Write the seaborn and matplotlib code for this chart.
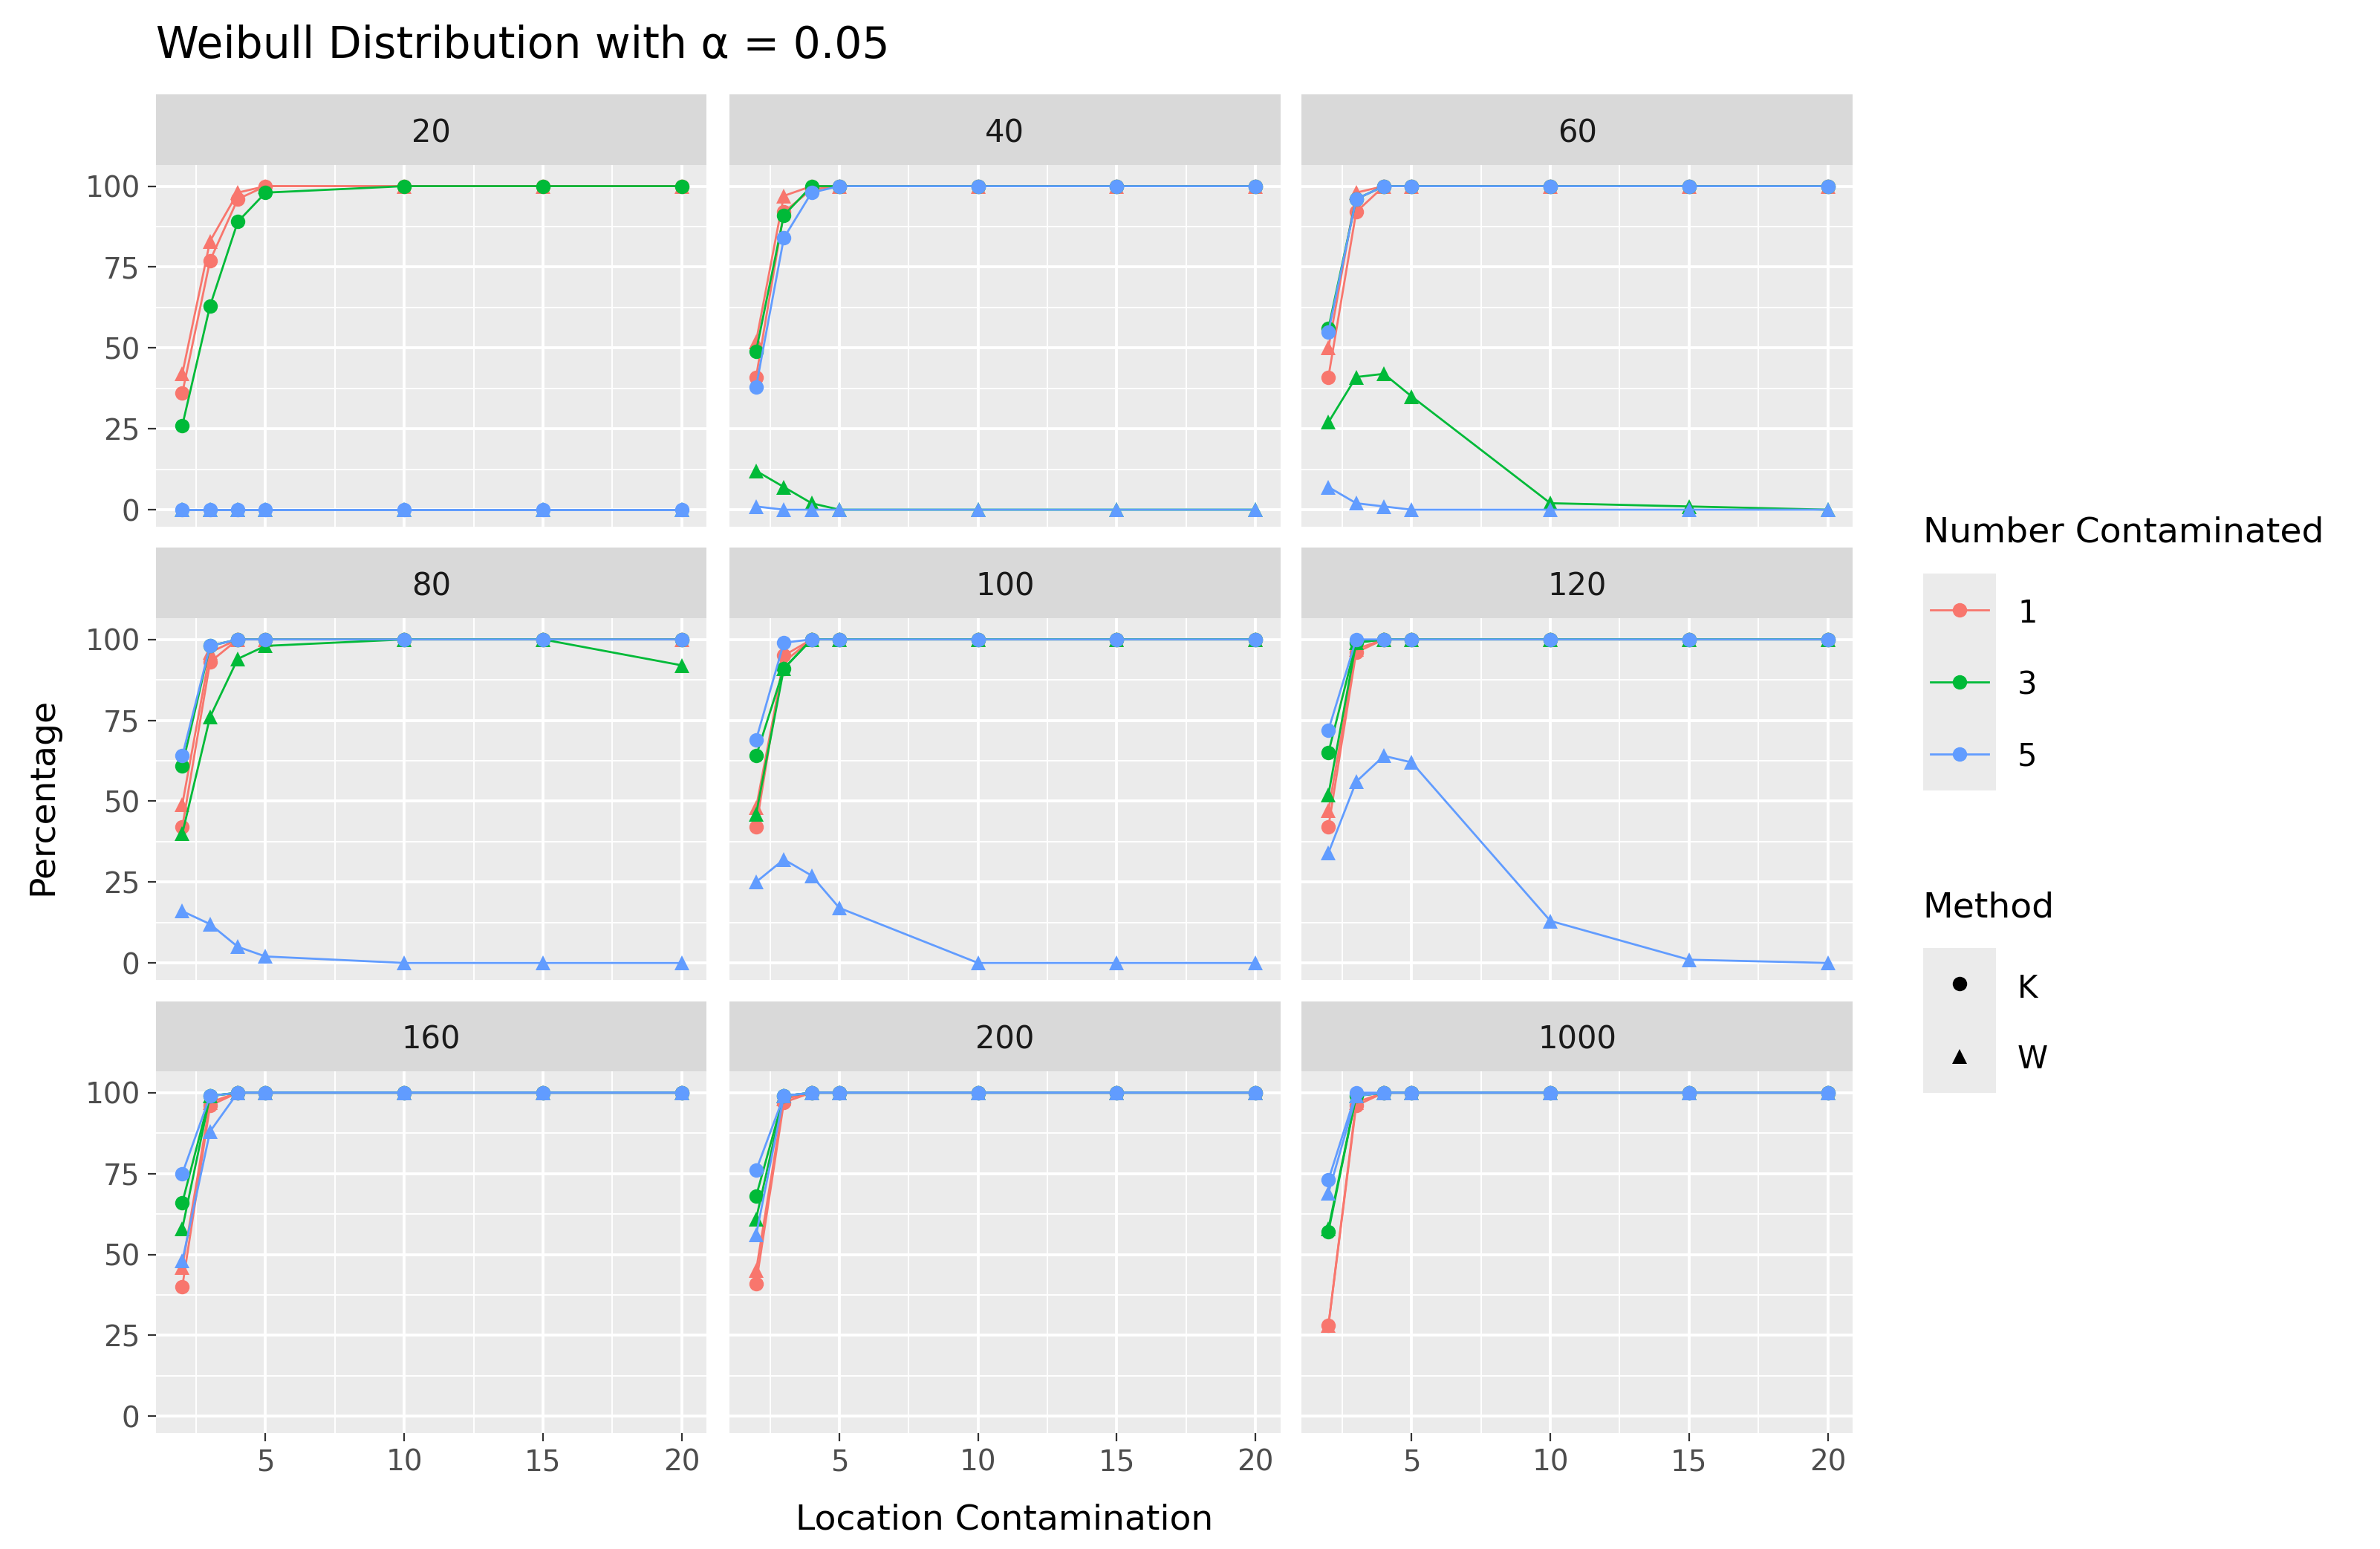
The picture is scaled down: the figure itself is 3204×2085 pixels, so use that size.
import numpy as np
import pandas as pd
import seaborn as sns
import matplotlib.pyplot as plt
from matplotlib.lines import Line2D

locations = [2, 3, 4, 5, 10, 15, 20]
panels = ["20", "40", "60", "80", "100", "120", "160", "200", "1000"]
counts = ["1", "3", "5"]
methods = ["K", "W"]

# values[panel][(count, method)]
K1_20 = [36, 77, 96, 100, 100, 100, 100]; W1_20 = [42, 83, 98, 100, 100, 100, 100]
K3_20 = [26, 63, 89, 98, 100, 100, 100]; W3_20 = [0, 0, 0, 0, 0, 0, 0]
K5_20 = [0, 0, 0, 0, 0, 0, 0]; W5_20 = [0, 0, 0, 0, 0, 0, 0]

K1_40 = [41, 92, 99, 100, 100, 100, 100]; W1_40 = [52, 97, 100, 100, 100, 100, 100]
K3_40 = [49, 91, 100, 100, 100, 100, 100]; W3_40 = [12, 7, 2, 0, 0, 0, 0]
K5_40 = [38, 84, 98, 100, 100, 100, 100]; W5_40 = [1, 0, 0, 0, 0, 0, 0]

K1_60 = [41, 92, 100, 100, 100, 100, 100]; W1_60 = [50, 98, 100, 100, 100, 100, 100]
K3_60 = [56, 96, 100, 100, 100, 100, 100]; W3_60 = [27, 41, 42, 35, 2, 1, 0]
K5_60 = [55, 96, 100, 100, 100, 100, 100]; W5_60 = [7, 2, 1, 0, 0, 0, 0]

K1_80 = [42, 93, 100, 100, 100, 100, 100]; W1_80 = [49, 96, 100, 100, 100, 100, 100]
K3_80 = [61, 98, 100, 100, 100, 100, 100]; W3_80 = [40, 76, 94, 98, 100, 100, 92]
K5_80 = [64, 98, 100, 100, 100, 100, 100]; W5_80 = [16, 12, 5, 2, 0, 0, 0]

K1_100 = [42, 95, 100, 100, 100, 100, 100]; W1_100 = [48, 93, 100, 100, 100, 100, 100]
K3_100 = [64, 91, 100, 100, 100, 100, 100]; W3_100 = [46, 91, 100, 100, 100, 100, 100]
K5_100 = [69, 99, 100, 100, 100, 100, 100]; W5_100 = [25, 32, 27, 17, 0, 0, 0]

K1_120 = [42, 96, 100, 100, 100, 100, 100]; W1_120 = [47, 97, 100, 100, 100, 100, 100]
K3_120 = [65, 99, 100, 100, 100, 100, 100]; W3_120 = [52, 99, 100, 100, 100, 100, 100]
K5_120 = [72, 100, 100, 100, 100, 100, 100]; W5_120 = [34, 56, 64, 62, 13, 1, 0]

K1_160 = [40, 96, 100, 100, 100, 100, 100]; W1_160 = [46, 97, 100, 100, 100, 100, 100]
K3_160 = [66, 99, 100, 100, 100, 100, 100]; W3_160 = [58, 99, 100, 100, 100, 100, 100]
K5_160 = [75, 99, 100, 100, 100, 100, 100]; W5_160 = [48, 88, 100, 100, 100, 100, 100]

K1_200 = [41, 97, 100, 100, 100, 100, 100]; W1_200 = [45, 98, 100, 100, 100, 100, 100]
K3_200 = [68, 99, 100, 100, 100, 100, 100]; W3_200 = [61, 99, 100, 100, 100, 100, 100]
K5_200 = [76, 99, 100, 100, 100, 100, 100]; W5_200 = [56, 99, 100, 100, 100, 100, 100]

K1_1000 = [28, 96, 100, 100, 100, 100, 100]; W1_1000 = [28, 97, 100, 100, 100, 100, 100]
K3_1000 = [57, 99, 100, 100, 100, 100, 100]; W3_1000 = [58, 99, 100, 100, 100, 100, 100]
K5_1000 = [73, 100, 100, 100, 100, 100, 100]; W5_1000 = [69, 99, 100, 100, 100, 100, 100]

g = globals()
rows = []
for p in panels:
    for c in counts:
        for m in methods:
            for x, v in zip(locations, g[f"{m}{c}_{p}"]):
                rows.append(dict(panel=p, count=c, method=m, loc=x, pct=v))
df = pd.DataFrame(rows)

palette = {"1": "#F8766D", "3": "#00BA38", "5": "#619CFF"}
markers = {"K": "o", "W": "^"}

W, H = 1560.0, 1015.0
fig = plt.figure(figsize=(16.025, 10.425), dpi=200)
fig.patch.set_facecolor("white")
lefts = [102, 478, 853]
pw = 361
plot_tops = [108, 405, 702]
ph = 237
sh = 46

for i, p in enumerate(panels):
    r, c = divmod(i, 3)
    ax = fig.add_axes([lefts[c] / W, 1 - (plot_tops[r] + ph) / H, pw / W, ph / H])
    ax.set_facecolor("#EBEBEB")
    sub = df[df.panel == p]
    sns.lineplot(data=sub, x="loc", y="pct", hue="count", style="method",
                 palette=palette, markers=markers, dashes=False, ax=ax,
                 linewidth=1.0, markersize=7, markeredgewidth=0, legend=False,
                 hue_order=counts, style_order=methods)
    ax.set_xlim(1.04, 20.9)
    ax.set_ylim(-5.2, 106.6)
    ax.set_xticks([5, 10, 15, 20])
    ax.set_xticks([2.5, 7.5, 12.5, 17.5], minor=True)
    ax.set_yticks([0, 25, 50, 75, 100])
    ax.set_yticks([12.5, 37.5, 62.5, 87.5], minor=True)
    ax.grid(True, which="major", color="white", linewidth=1.4)
    ax.grid(True, which="minor", color="white", linewidth=0.7)
    ax.set_axisbelow(True)
    for s in ax.spines.values():
        s.set_visible(False)
    ax.tick_params(which="minor", length=0)
    ax.tick_params(which="major", length=4, color="#333333", labelsize=14, labelcolor="#4D4D4D")
    ax.set_xlabel(""); ax.set_ylabel("")
    if c != 0:
        ax.set_yticklabels([])
        ax.tick_params(axis="y", length=0)
    if r != 2:
        ax.set_xticklabels([])
        ax.tick_params(axis="x", length=0)
    # strip
    sax = fig.add_axes([lefts[c] / W, 1 - plot_tops[r] / H, pw / W, sh / H])
    sax.set_facecolor("#D9D9D9")
    sax.set_xticks([]); sax.set_yticks([])
    for s in sax.spines.values():
        s.set_visible(False)
    sax.text(0.5, 0.45, p, ha="center", va="center", fontsize=15, color="#1A1A1A",
             transform=sax.transAxes)

fig.text(102 / W, 1 - 30 / H, "Weibull Distribution with α = 0.05", fontsize=21,
         ha="left", va="center", color="black")
fig.text(658 / W, 1 - 996 / H, "Location Contamination", fontsize=17, ha="center", va="center")
fig.text(28 / W, 1 - 522 / H, "Percentage", fontsize=17, ha="center", va="center", rotation=90)

# legends
fig.text(1260 / W, 1 - 349 / H, "Number Contaminated", fontsize=17, ha="left", va="center")
lax = fig.add_axes([1260 / W, 1 - 518 / H, 48 / W, 142 / H])
lax.set_facecolor("#EBEBEB"); lax.set_xticks([]); lax.set_yticks([])
for s in lax.spines.values():
    s.set_visible(False)
lax.set_xlim(0, 1); lax.set_ylim(0, 3)
for k, cnt in enumerate(counts):
    yy = 2.5 - k
    lax.plot([0.1, 0.9], [yy, yy], color=palette[cnt], lw=1.0)
    lax.plot([0.5], [yy], marker="o", color=palette[cnt], ms=7, mew=0)
    fig.text(1322 / W, 1 - (402 + 47 * k) / H, cnt, fontsize=15, ha="left", va="center")

fig.text(1260 / W, 1 - 595 / H, "Method", fontsize=17, ha="left", va="center")
mx = fig.add_axes([1260 / W, 1 - 716 / H, 48 / W, 95 / H])
mx.set_facecolor("#EBEBEB"); mx.set_xticks([]); mx.set_yticks([])
for s in mx.spines.values():
    s.set_visible(False)
mx.set_xlim(0, 1); mx.set_ylim(0, 2)
for k, m in enumerate(methods):
    mx.plot([0.5], [1.5 - k], marker=markers[m], color="black", ms=7, mew=0)
    fig.text(1322 / W, 1 - (648 + 46 * k) / H, m, fontsize=15, ha="left", va="center")

fig.savefig("out.png", dpi=200, facecolor="white")
